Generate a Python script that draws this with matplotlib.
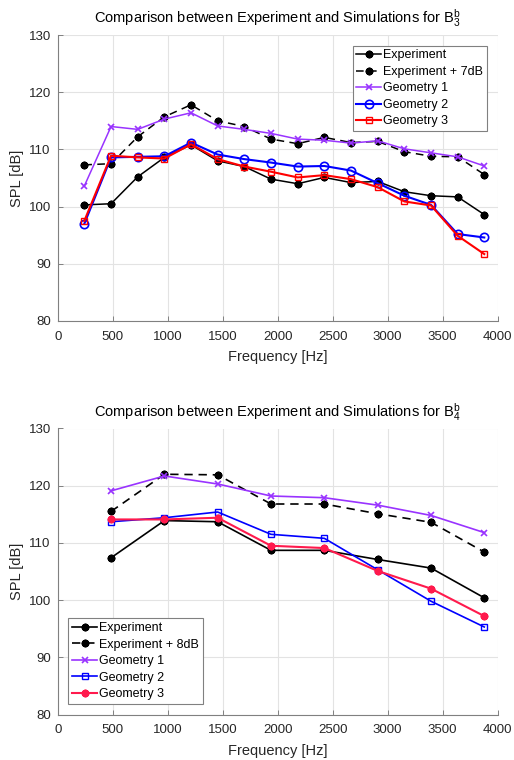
import numpy as np
import matplotlib
matplotlib.use("Agg")
import matplotlib.pyplot as plt

plt.rcParams['font.family'] = ['Liberation Sans', 'DejaVu Sans']
plt.rcParams['mathtext.fontset'] = 'custom'
plt.rcParams['mathtext.rm'] = 'Liberation Sans'

# ---------------- data: top panel (B3^b) ----------------
freq_top = [242, 485, 727, 970, 1212, 1454, 1697, 1939, 2182, 2424, 2666, 2909, 3151, 3394, 3636, 3878]
exp_top = [100.3, 100.5, 105.2, 108.6, 110.8, 108.0, 107.0, 104.8, 104.0, 105.1, 104.2, 104.4, 102.6, 101.9, 101.7, 98.6]
exp7_top = [107.3, 107.5, 112.2, 115.7, 117.8, 115.0, 114.0, 111.8, 111.0, 112.1, 111.2, 111.4, 109.6, 108.8, 108.7, 105.6]
geo1_top = [103.6, 114.0, 113.5, 115.3, 116.4, 114.1, 113.5, 112.8, 111.8, 111.6, 111.1, 111.5, 110.1, 109.4, 108.7, 107.1]
geo2_top = [97.0, 108.6, 108.7, 108.8, 111.2, 109.1, 108.3, 107.7, 107.0, 107.1, 106.3, 104.1, 101.9, 100.3, 95.2, 94.6]
geo3_top = [97.5, 108.9, 108.6, 108.4, 110.9, 108.3, 107.0, 106.1, 105.1, 105.5, 104.8, 103.4, 100.9, 100.2, 94.9, 91.7]

# ---------------- data: bottom panel (B4^b) ----------------
freq_bot = [485, 970, 1454, 1939, 2424, 2909, 3394, 3878]
exp_bot = [107.4, 113.9, 113.7, 108.7, 108.7, 107.1, 105.6, 100.4]
exp8_bot = [115.5, 122.0, 121.9, 116.8, 116.8, 115.1, 113.6, 108.4]
geo1_bot = [119.1, 121.7, 120.3, 118.2, 117.9, 116.6, 114.8, 111.8]
geo2_bot = [113.7, 114.4, 115.4, 111.5, 110.8, 105.3, 99.8, 95.3]
geo3_bot = [114.1, 114.1, 114.4, 109.5, 109.1, 105.1, 102.0, 97.2]

xticks = [0, 500, 1000, 1500, 2000, 2500, 3000, 3500, 4000]
yticks = [80, 90, 100, 110, 120, 130]

PURPLE = '#9933ff'
CRIMSON = '#ff1a4d'
AX_COL = '#262626'
ASTER = (8, 2, 0)

W, H = 514, 760
fig = plt.figure(figsize=(W / 100, H / 100), dpi=100)


def px_axes(left, top, right, bottom):
    return fig.add_axes([left / W, 1 - bottom / H, (right - left) / W, (bottom - top) / H])


def style(ax, title):
    ax.set_xlim(0, 4000)
    ax.set_ylim(80, 130)
    ax.set_xticks(xticks)
    ax.set_yticks(yticks)
    ax.grid(True, color='#e3e3e3', linewidth=0.8)
    ax.set_axisbelow(True)
    for s in ['top', 'right']:
        ax.spines[s].set_visible(False)
    for s in ['left', 'bottom']:
        ax.spines[s].set_color('#808080')
        ax.spines[s].set_linewidth(0.8)
    ax.tick_params(direction='in', length=3.5, width=0.7, colors='#808080',
                   labelcolor=AX_COL, labelsize=9.5)
    ax.tick_params(axis='x', pad=7)
    ax.tick_params(axis='y', pad=5)
    ax.set_xlabel('Frequency [Hz]', fontsize=10.5, color=AX_COL, labelpad=5.5)
    ax.set_ylabel('SPL [dB]', fontsize=10.5, color=AX_COL, labelpad=3)
    ax.set_title(title, fontsize=10.5, color='black', pad=8.5)


def legend(ax, loc):
    leg = ax.legend(loc=loc, fontsize=9, handlelength=2.0, handletextpad=0.15,
                    labelspacing=0.36, borderpad=0.3, borderaxespad=0.85, fancybox=False,
                    framealpha=1, edgecolor='#808080')
    leg.get_frame().set_linewidth(0.8)
    return leg


MK = dict(marker=ASTER, ms=5.5, mew=1.6)

# ---------------- top axes ----------------
ax1 = px_axes(57.7, 35, 497.7, 321)
ax1.plot(freq_top, exp_top, color='black', lw=1.1, label='Experiment', **MK)
ax1.plot(freq_top, exp7_top, color='black', lw=1.1, ls=(0, (5, 3.5)), label='Experiment + 7dB', **MK)
ax1.plot(freq_top, geo1_top, color=PURPLE, lw=1.1, marker='x', ms=5, mew=1.2, label='Geometry 1')
ax1.plot(freq_top, geo2_top, color='blue', lw=1.5, marker='o', ms=6, mew=1.2, mfc='none',
         label='Geometry 2')
ax1.plot(freq_top, geo3_top, color='red', lw=1.5, marker='s', ms=5, mew=1.0, mfc='none',
         label='Geometry 3')
style(ax1, r'Comparison between Experiment and Simulations for $\mathregular{B_3^b}$')
legend(ax1, 'upper right')

# ---------------- bottom axes ----------------
ax2 = px_axes(57.7, 428.5, 497.7, 714.5)
ax2.plot(freq_bot, exp_bot, color='black', lw=1.2, label='Experiment', **MK)
ax2.plot(freq_bot, exp8_bot, color='black', lw=1.2, ls=(0, (5, 3.5)), label='Experiment + 8dB', **MK)
ax2.plot(freq_bot, geo1_bot, color=PURPLE, lw=1.2, marker='x', ms=5, mew=1.2, label='Geometry 1')
ax2.plot(freq_bot, geo2_bot, color='blue', lw=1.2, marker='s', ms=5, mew=1.0, mfc='none',
         label='Geometry 2')
ax2.plot(freq_bot, geo3_bot, color=CRIMSON, lw=1.5, label='Geometry 3', **MK)
style(ax2, r'Comparison between Experiment and Simulations for $\mathregular{B_4^b}$')
legend(ax2, 'lower left')

fig.savefig('out.png', dpi=100, facecolor='white')
